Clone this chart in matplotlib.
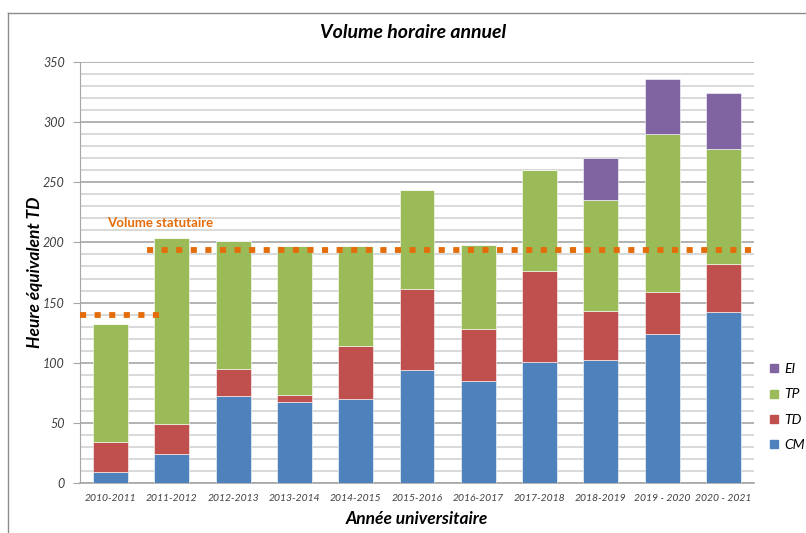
import matplotlib
matplotlib.use("Agg")
import matplotlib.pyplot as plt
from matplotlib.lines import Line2D
import numpy as np

plt.rcParams['font.family'] = ['Lato', 'DejaVu Sans']

# Data
annees = ["2010-2011", "2011-2012", "2012-2013", "2013-2014", "2014-2015",
          "2015-2016", "2016-2017", "2017-2018", "2018-2019",
          "2019 - 2020", "2020 - 2021"]
cm = [9, 24, 72, 67, 70, 94, 85, 101, 102, 124, 142]
td = [25, 25, 23, 6, 44, 67, 43, 75, 41, 35, 40]
tp = [98, 155, 106, 124, 83, 83, 70, 84, 92, 131, 96]
ei = [0, 0, 0, 0, 0, 0, 0, 0, 35, 46, 46]

# statutory volume: value and span (in category index)
statut_vals = [140, 194]
statut_span = [(-0.5, 0.85), (0.6, 10.5)]

colors = {"CM": "#4F81BD", "TD": "#C0504D", "TP": "#9BBB59", "EI": "#8064A2"}
orange = "#E46C0A"
txt = "#404040"

fig = plt.figure(figsize=(8.06, 5.33), dpi=100)
ax = fig.add_axes([80 / 806, 1 - 483 / 533, 674 / 806, 421 / 533])

x = np.arange(len(annees))
w = 0.57
bottom = np.zeros(len(annees))
for name, vals in [("CM", cm), ("TD", td), ("TP", tp), ("EI", ei)]:
    ax.bar(x, vals, w, bottom=bottom, color=colors[name],
           edgecolor="white", linewidth=0.4, zorder=3)
    bottom += np.array(vals)

# dotted statutory lines
for v, (a, b) in zip(statut_vals, statut_span):
    ax.plot([a, b], [v, v], color=orange, lw=4.2, linestyle=(0, (1.05, 1.45)),
            dash_capstyle="butt", solid_capstyle="butt", zorder=4)
ax.text(-0.06, 216, "Volume statutaire", color=orange, fontsize=9.5,
        fontweight="bold", ha="left", va="center", zorder=5)

ax.set_xlim(-0.5, len(annees) - 0.5)
ax.set_ylim(0, 350)
ax.set_yticks(np.arange(0, 351, 50))
ax.set_yticks(np.arange(0, 351, 10), minor=True)
ax.grid(axis="y", which="major", color="#A6A6A6", lw=1.2, zorder=0)
ax.grid(axis="y", which="minor", color="#D9D9D9", lw=1.4, zorder=0)
ax.set_axisbelow(True)

ax.set_xticks(x)
ax.set_xticklabels(annees, fontsize=7.5, style="italic", color=txt)
ax.tick_params(axis="x", length=0, pad=8)
ax.tick_params(axis="y", which="major", length=5, color="#A6A6A6",
               labelsize=9, pad=6, labelcolor=txt)
ax.tick_params(axis="y", which="minor", length=0)
for lab in ax.get_yticklabels():
    lab.set_style("italic")

for s in ["top", "right"]:
    ax.spines[s].set_visible(False)
ax.spines["left"].set_color("#A6A6A6")
ax.spines["bottom"].set_color("#A6A6A6")
ax.spines["bottom"].set_linewidth(1.2)

fig.text(413 / 806, 1 - 33 / 533, "Volume horaire annuel", ha="center",
         va="center", fontsize=14, fontweight="bold", style="italic")
fig.text(35 / 806, 1 - 272 / 533, "Heure équivalent TD", ha="center",
         va="center", rotation=90, fontsize=12.5, fontweight="bold",
         style="italic")
fig.text(417 / 806, 1 - 519 / 533, "Année universitaire", ha="center",
         va="center", fontsize=12.5, fontweight="bold", style="italic")

# legend (EI on top)
handles = [Line2D([], [], marker="s", ls="", color=colors[k], markersize=6)
           for k in ["EI", "TP", "TD", "CM"]]
leg = fig.legend(handles, ["EI", "TP", "TD", "CM"], loc="center left",
                 bbox_to_anchor=(758 / 806, 1 - 407 / 533), frameon=False,
                 handlelength=0.5, handletextpad=0.5, labelspacing=0.95,
                 prop={"size": 10, "style": "italic"})

# outer chart frame (left and top visible)
fig.add_artist(Line2D([8 / 806, 8 / 806], [0, 1 - 13 / 533],
                      transform=fig.transFigure, color="#8C8C8C", lw=1))
fig.add_artist(Line2D([8 / 806, 1], [1 - 13 / 533, 1 - 13 / 533],
                      transform=fig.transFigure, color="#8C8C8C", lw=1))

fig.savefig("out.png", dpi=100)
